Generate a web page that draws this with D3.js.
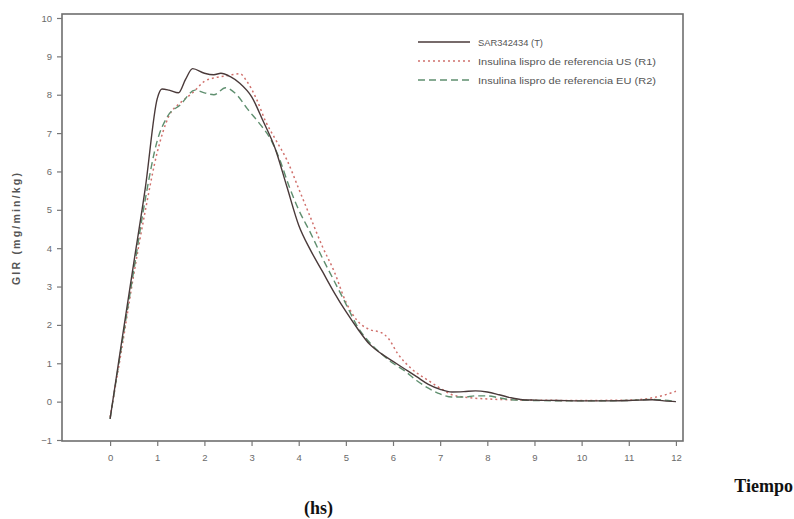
<!DOCTYPE html>
<html><head><meta charset="utf-8">
<script src="https://cdn.jsdelivr.net/npm/d3@7"></script>
<style>body{margin:0;background:#fff}svg{display:block}</style>
</head><body>
<script>
const seriesNames = ["SAR342434 (T)", "Insulina lispro de referencia US (R1)", "Insulina lispro de referencia EU (R2)"];
const xTicks = [0,1,2,3,4,5,6,7,8,9,10,11,12];
const yTicks = [-1,0,1,2,3,4,5,6,7,8,9,10];

const tT  = [0,0.25,0.5,0.75,1.0,1.1,1.25,1.45,1.6,1.75,2.0,2.2,2.35,2.55,2.75,3.0,3.25,3.5,3.75,4.0,4.25,4.5,4.75,5.0,5.25,5.5,5.75,6.0,6.25,6.5,6.75,7.0,7.25,7.5,7.75,8.0,8.25,8.5,8.75,9,9.5,10,10.5,11,11.5,11.75,12];
const vT  = [-0.45,1.6,3.6,5.6,7.9,8.15,8.12,8.05,8.4,8.68,8.56,8.52,8.56,8.47,8.3,7.95,7.3,6.6,5.6,4.6,3.95,3.4,2.85,2.35,1.9,1.5,1.25,1.05,0.85,0.65,0.45,0.32,0.25,0.26,0.28,0.25,0.18,0.1,0.05,0.04,0.03,0.02,0.02,0.03,0.05,0.02,0.0];

const tR1 = [0,0.25,0.5,0.75,1.0,1.25,1.5,1.75,2.0,2.25,2.5,2.75,2.9,3.1,3.3,3.5,3.75,4.0,4.25,4.5,4.75,5.0,5.25,5.5,5.75,5.9,6.1,6.4,6.75,7.0,7.25,7.5,8.0,8.5,9,10,11,11.5,11.75,12];
const vR1 = [-0.4,1.4,3.3,5.0,6.5,7.45,7.8,8.05,8.35,8.45,8.5,8.55,8.35,7.9,7.3,6.85,6.3,5.55,4.8,4.05,3.4,2.6,2.1,1.88,1.8,1.65,1.25,0.85,0.55,0.35,0.18,0.12,0.07,0.05,0.04,0.03,0.04,0.1,0.17,0.27];

const tR2 = [0,0.25,0.5,0.75,1.0,1.2,1.5,1.8,2.0,2.2,2.45,2.7,2.9,3.2,3.4,3.6,3.8,4.0,4.25,4.5,4.75,5.0,5.25,5.5,5.75,6.0,6.25,6.5,6.75,7.0,7.25,7.5,7.75,8.0,8.25,8.5,9,10,11,11.5,11.75,12];
const vR2 = [-0.45,1.5,3.4,5.3,6.8,7.4,7.75,8.12,8.05,8.0,8.18,7.98,7.65,7.2,6.85,6.3,5.6,5.0,4.4,3.75,3.15,2.55,1.95,1.55,1.25,1.0,0.8,0.55,0.35,0.2,0.12,0.12,0.15,0.15,0.1,0.05,0.03,0.02,0.03,0.06,0.04,0.0];

const W = 794, H = 519;
const svg = d3.select("body").append("svg").attr("width", W).attr("height", H);

const x = d3.scaleLinear().domain([-1.02, 12.15]).range([62, 683]);
const y = d3.scaleLinear().domain([-1, 10]).range([440, 18]);

// frame
svg.append("rect").attr("x", 62).attr("y", 14).attr("width", 621).attr("height", 427)
  .attr("fill", "none").attr("stroke", "#6e6e6e").attr("stroke-width", 1.6);

// axes
const gx = svg.append("g").attr("transform", "translate(0,441)")
  .call(d3.axisBottom(x).tickValues(xTicks).tickSize(5).tickPadding(8));
const gy = svg.append("g").attr("transform", "translate(62,0)")
  .call(d3.axisLeft(y).tickValues(yTicks).tickSize(5).tickPadding(5));
[gx, gy].forEach(g => {
  g.select(".domain").remove();
  g.selectAll("line").attr("stroke", "#777").attr("stroke-width", 1.2);
  g.selectAll("text").attr("fill", "#6a6a6a").attr("font-family", "Liberation Sans, Arial, sans-serif").attr("font-size", 9.5);
});

// y label
svg.append("text").attr("transform", "translate(20,229) rotate(-90)")
  .attr("text-anchor", "middle").attr("font-family", "Liberation Sans, Arial, sans-serif")
  .attr("font-size", 10.5).attr("font-weight", "bold").attr("fill", "#555")
  .attr("textLength", 112).attr("lengthAdjust", "spacing")
  .text("GIR (mg/min/kg)");

const styles = [
  {color: "#4a3a3a", dash: null, width: 1.4},
  {color: "#d0706c", dash: "2,3", width: 1.5},
  {color: "#5f8f6f", dash: "7,4", width: 1.4}
];
const legendLen = [65, 178, 178];
const data = [[tT, vT], [tR1, vR1], [tR2, vR2]];
const line = d3.line().x(d => x(d[0])).y(d => y(d[1])).curve(d3.curveMonotoneX);

// draw R1, R2 first then T on top
[1, 2, 0].forEach(i => {
  const pts = data[i][0].map((t, k) => [t, data[i][1][k]]);
  svg.append("path").datum(pts).attr("d", line)
    .attr("fill", "none").attr("stroke", styles[i].color)
    .attr("stroke-width", styles[i].width)
    .attr("stroke-dasharray", styles[i].dash);
});

// legend
const leg = svg.append("g");
seriesNames.forEach((n, i) => {
  const yy = 42 + i * 19;
  leg.append("line").attr("x1", 418).attr("x2", 470).attr("y1", yy).attr("y2", yy)
    .attr("stroke", styles[i].color).attr("stroke-width", styles[i].width)
    .attr("stroke-dasharray", styles[i].dash);
  leg.append("text").attr("x", 478).attr("y", yy + 3.5)
    .attr("font-family", "Liberation Sans, Arial, sans-serif").attr("font-size", 9.5)
    .attr("textLength", legendLen[i]).attr("lengthAdjust", "spacingAndGlyphs")
    .attr("fill", "#555").text(n);
});

// external titles
svg.append("text").attr("x", 793).attr("y", 492).attr("text-anchor", "end")
  .attr("font-family", "Liberation Serif, Times New Roman, serif").attr("font-weight", "bold")
  .attr("font-size", 18).attr("fill", "#111").text("Tiempo");
svg.append("text").attr("x", 304).attr("y", 514)
  .attr("font-family", "Liberation Serif, Times New Roman, serif").attr("font-weight", "bold")
  .attr("font-size", 18).attr("fill", "#111").text("(hs)");
</script>
</body></html>
